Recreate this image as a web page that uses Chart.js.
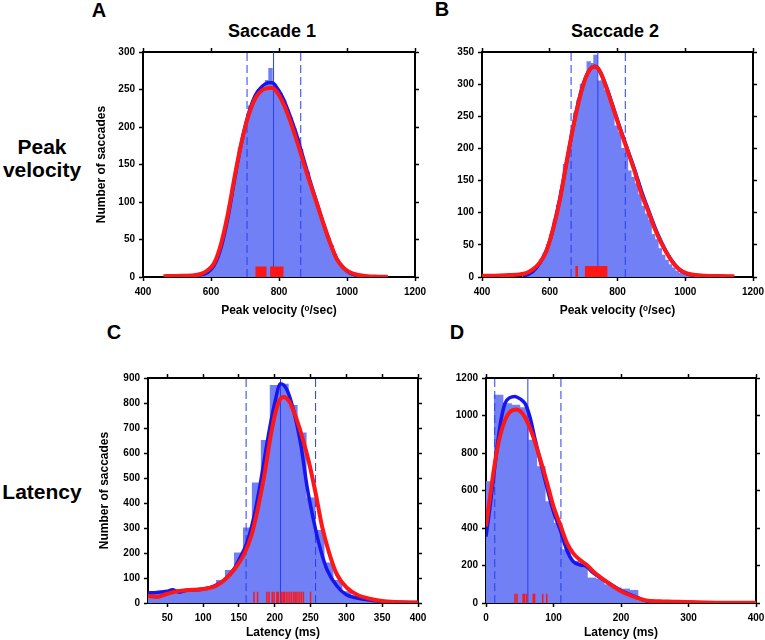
<!DOCTYPE html>
<html>
<head>
<meta charset="utf-8">
<script src="https://cdn.jsdelivr.net/npm/chart.js@4/dist/chart.umd.min.js"></script>
<style>
  body { margin: 0; width: 765px; height: 640px; overflow: hidden; position: relative; background: #fff;
         font-family: "Liberation Sans", Arial, sans-serif; font-weight: bold; color: #000; }
  canvas { position: absolute; }
  .t { position: absolute; white-space: nowrap; transform: translate(-50%, -50%); text-align: center; }
</style>
</head>
<body>
<div class="t" style="left:99px;top:10px;font-size:20px">A</div>
<div class="t" style="left:442px;top:9px;font-size:20px">B</div>
<div class="t" style="left:114px;top:332px;font-size:20px">C</div>
<div class="t" style="left:457px;top:332px;font-size:20px">D</div>
<div class="t" style="left:272px;top:31px;font-size:18px">Saccade 1</div>
<div class="t" style="left:615px;top:31px;font-size:18px">Saccade 2</div>
<div class="t" style="left:42px;top:158px;font-size:21px;line-height:23px">Peak<br>velocity</div>
<div class="t" style="left:42px;top:492px;font-size:21px">Latency</div>

<canvas id="chartA"></canvas>
<canvas id="chartB"></canvas>
<canvas id="chartC"></canvas>
<canvas id="chartD"></canvas>

<script>
/********************
DATA
********************/

// A: saccade 1 peak velocity
var aBinX = [565,575,585,595,605,615,625,635,645,655,665,675,685,695,705,715,725,735,745,755,765,775,785,795,805,815,825,835,845,855,865,875,885,895,905,915,925,935,945,955,965,975,985,995,1005,1015,1025,1035,1045];
var aBinY = [2,3,5,9,14,22,34,50,70,95,120,145,172,190,205,228,232,240,248,252,262,278,258,250,245,236,222,212,198,185,170,148,140,118,104,90,78,65,52,42,30,20,14,10,6,4,2,1,1];
var aBlueX = [530,560,590,610,630,650,670,690,710,730,750,770,780,790,810,830,850,870,890,910,930,950,970,990,1010,1030,1060];
var aBlueY = [0.5,2,6,16,40,80,132,180,217,242,254,259,259,255,240,218,192,161,130,101,72,46,24,12,5,2,0.5];
var aRedX = [460,500,540,570,590,610,630,650,670,690,710,730,750,770,780,790,810,830,850,870,890,910,930,950,970,990,1010,1030,1060,1090,1120];
var aRedY = [1,1.5,2,4,9,19,45,85,135,180,215,238,249,252,252,249,234,212,185,156,127,100,72,46,24,12,6,3,1,0.5,0.3];
var aMarks = [706, 784, 864];   // dashed, median, dashed
var aRug = [733,736,739,742,745,748,751,754,757,761,776,779,783,786,790,793,797,800,804,808,811];

// B: saccade 2 peak velocity
var bBinX = [525,535,545,555,565,575,585,595,605,615,625,635,645,655,665,675,685,695,705,715,725,735,745,755,765,775,785,795,805,815,825,835,845,855,865,875,885,895,905,915,925,935,945,955,965,975,985,995,1005,1015,1025];
var bBinY = [2,4,7,12,18,26,36,50,66,88,112,135,175,190,222,255,275,300,305,335,332,345,305,305,290,280,262,235,225,200,192,165,155,145,128,110,98,88,66,58,44,34,26,19,14,9,6,4,3,2,1];
var bBlueX = [520,540,560,580,600,620,640,660,680,700,720,735,750,770,790,810,830,850,870,890,910,930,950,970,990,1010,1030,1060];
var bBlueY = [1,5,14,30,56,98,150,208,262,302,324,328,318,292,260,228,198,168,135,106,78,54,34,19,9,4,2,1];
var bRedX = [400,440,480,510,530,550,570,590,610,630,650,670,690,710,730,740,750,770,790,810,830,850,870,890,910,930,950,970,990,1010,1030,1060,1100,1145];
var bRedY = [2,2,3,4,6,12,22,40,75,120,180,235,282,315,327,326,318,290,258,226,196,165,130,103,75,52,33,18,9,5,3,2,1.5,1];
var bMarks = [663, 742, 823];
var bRug = [678,681,706,710,714,717,721,725,729,732,736,740,744,748,752,756,760,764,768];

// C: saccade 1 latency
var cBinX = [25,37.5,50,62.5,75,87.5,100,112.5,125,137.5,150,162.5,175,187.5,200,212.5,225,237.5,250,262.5,275,287.5,300,312.5,325,337.5,350,362.5,375,387.5];
var cBinY = [38,40,45,42,48,50,55,65,90,130,200,300,480,650,870,875,790,680,420,290,160,90,45,25,15,10,6,4,3,2];
var cBlueX = [23,35,50,57,67,77,90,100,116,130,144,150,161,170,180,190,200,208,217,226,236,245,255,264,273,287,300,315,334,353,376,400];
var cBlueY = [40,42,47,53,43,51,53,56,69,93,140,173,240,333,480,653,800,877,853,773,640,467,320,213,133,67,33,20,11,5,3,2];
var cRedX = [23,35,50,63,77,101,117,130,144,158,167,176,186,195,204,212,220,229,238,248,257,266,276,287,301,315,334,353,376,400];
var cRedY = [29,24,37,47,51,56,67,93,136,200,267,373,520,680,793,824,807,747,667,560,440,307,200,113,60,33,16,7,3,2];
var cMarks = [160, 208, 257];
var cRug = [171,176,189,192,196.5,199,203,205,209.5,212,214,217,220,223,226,228.5,231,234,237,240,250];

// D: saccade 2 latency
var dBinX = [6.25,18.75,31.25,43.75,56.25,68.75,81.25,93.75,106.25,118.75,131.25,143.75,156.25,168.75,181.25,193.75,206.25,218.75,231.25,243.75,256.25,268.75,281.25,293.75,306.25,318.75,331.25];
var dBinY = [647,1108,1063,1055,1042,868,727,540,425,284,222,198,133,128,97,80,74,67,9,8,6,5,4,6,5,2,1];
var dBlueX = [0,6,13,20.5,28,35.5,43,50,58,65,73,80,90,100,110,119.5,129,139,149,159,178,198,217.5,237,257,291,316,366,400];
var dBlueY = [354,514,727,939,1063,1095,1102,1090,1063,993,868,762,620,487,390,284,222,204,195,160,115,71,39,12,4,4,2,1,0];
var dRedX = [0,6,13,20.5,28,35.5,45,52,60,70,80,90,100,110,119.5,129,139,149,159,178,198,217.5,237,257,277,296,341,400];
var dRedY = [408,567,744,886,975,1019,1032,1019,975,886,771,647,514,417,323,266,230,204,168,115,67,35,14,9,7,5,2,1];
var dMarks = [13, 62, 111];
var dRug = [43,46,55,57,60,70,72,84,90];

/********************
STYLE
********************/

var HIST = 'rgb(114,128,246)';
var BLUE = 'rgb(22,22,236)';
var RED = 'rgb(255,22,22)';
var MARK = 'rgb(40,60,240)';
var FAM = "'Liberation Sans', Arial, sans-serif";

function pts(xs, ys) {
  return xs.map(function (x, i) { return {x: x, y: ys[i]}; });
}

function vline(x, top) {
  return [{x: x, y: 0}, {x: x, y: top}];
}

function rugPts(xs, h) {
  var out = [];
  xs.forEach(function (x) {
    out.push({x: x, y: 0}, {x: x, y: h}, {x: x, y: null});
  });
  return out;
}

function axis(pos, min, max, step, size, opts) {
  var horiz = pos === 'bottom' || pos === 'top';
  var showLabels = pos === 'bottom' || pos === 'left';
  var s = {
    type: 'linear',
    position: pos,
    min: min,
    max: max,
    offset: false,
    ticks: {
      display: showLabels,
      stepSize: step,
      includeBounds: false,
      maxRotation: 0,
      autoSkip: false,
      padding: horiz ? 5 : 4,
      color: '#000',
      font: {family: FAM, size: 10, weight: 'bold'},
      callback: function (v) { return String(v); }   // no thousands separator
    },
    grid: {offset: false, drawOnChartArea: false, drawTicks: true, tickLength: 4, tickColor: '#000', tickWidth: 1.5},
    border: {display: true, color: '#000', width: 2},
    afterFit: function (scale) {
      if (horiz) scale.height = size; else scale.width = size;
    }
  };
  if (opts && opts.title) {
    s.title = {display: true, text: opts.title, color: '#000',
               font: {family: FAM, size: 12, weight: 'bold'},
               padding: opts.titlePad || {top: 0, bottom: 4}};
  }
  return s;
}

/********************
PANEL
********************/

function panel(id, box, area, p) {
  var cv = document.getElementById(id);
  cv.width = box.r - box.l;
  cv.height = box.b - box.t;
  cv.style.left = box.l + 'px';
  cv.style.top = box.t + 'px';

  var yMax = p.yMax;
  var scales = {
    x: axis('bottom', p.xMin, p.xMax, p.xStep, box.b - area.b, {title: p.xTitle, titlePad: p.xTitlePad}),
    x2: axis('top', p.xMin, p.xMax, p.xStep, area.t - box.t),
    y: axis('left', 0, yMax, p.yStep, area.l - box.l, p.yTitle ? {title: p.yTitle} : null),
    y2: axis('right', 0, yMax, p.yStep, box.r - area.r)
  };

  new Chart(cv, {
    type: 'bar',
    data: {
      datasets: [
        {type: 'line', data: rugPts(p.rug, p.rugH), borderColor: RED, borderWidth: 1.5,
         pointRadius: 0, tension: 0, spanGaps: false, order: 1},
        {type: 'line', data: pts(p.redX, p.redY), borderColor: RED, borderWidth: 4,
         pointRadius: 0, cubicInterpolationMode: 'monotone', order: 2},
        {type: 'line', data: pts(p.blueX, p.blueY), borderColor: BLUE, borderWidth: 3.5,
         pointRadius: 0, cubicInterpolationMode: 'monotone', order: 3},
        {type: 'line', data: vline(p.marks[1], yMax), borderColor: MARK, borderWidth: 1,
         pointRadius: 0, tension: 0, order: 4},
        {type: 'line', data: vline(p.marks[0], yMax), borderColor: MARK, borderWidth: 1,
         borderDash: [8, 4], pointRadius: 0, tension: 0, order: 4},
        {type: 'line', data: vline(p.marks[2], yMax), borderColor: MARK, borderWidth: 1,
         borderDash: [8, 4], pointRadius: 0, tension: 0, order: 4},
        {type: 'bar', data: pts(p.binX, p.binY), backgroundColor: HIST, borderWidth: 0,
         inflateAmount: 0.5, barPercentage: 1, categoryPercentage: 1, order: 6}
      ]
    },
    options: {
      responsive: false,
      animation: false,
      layout: {padding: 0},
      plugins: {legend: {display: false}, tooltip: {enabled: false}},
      scales: scales
    }
  });
}

var VEL = 'Peak velocity (\u1D52/sec)';
var LAT = 'Latency (ms)';
var NUM = 'Number of saccades';

panel('chartA', {l: 94, t: 36, r: 433, b: 322}, {l: 143, t: 52, r: 415, b: 277}, {
  xMin: 400, xMax: 1200, xStep: 200, yMax: 300, yStep: 50, xTitle: VEL, yTitle: NUM,
  binX: aBinX, binY: aBinY, blueX: aBlueX, blueY: aBlueY, redX: aRedX, redY: aRedY,
  marks: aMarks, rug: aRug, rugH: 14
});

panel('chartB', {l: 440, t: 36, r: 775, b: 322}, {l: 482, t: 52, r: 753, b: 277}, {
  xMin: 400, xMax: 1200, xStep: 200, yMax: 350, yStep: 50, xTitle: VEL,
  binX: bBinX, binY: bBinY, blueX: bBlueX, blueY: bBlueY, redX: bRedX, redY: bRedY,
  marks: bMarks, rug: bRug, rugH: 17
});

panel('chartC', {l: 97, t: 362, r: 436, b: 640}, {l: 148, t: 378, r: 418, b: 603}, {
  xMin: 23, xMax: 400, xStep: 50, yMax: 900, yStep: 100, xTitle: LAT, yTitle: NUM,
  xTitlePad: {top: 0, bottom: 0},
  binX: cBinX, binY: cBinY, blueX: cBlueX, blueY: cBlueY, redX: cRedX, redY: cRedY,
  marks: cMarks, rug: cRug, rugH: 45
});

panel('chartD', {l: 440, t: 362, r: 775, b: 640}, {l: 486, t: 378, r: 756, b: 603}, {
  xMin: 0, xMax: 400, xStep: 100, yMax: 1200, yStep: 200, xTitle: LAT,
  xTitlePad: {top: 0, bottom: 0},
  binX: dBinX, binY: dBinY, blueX: dBlueX, blueY: dBlueY, redX: dRedX, redY: dRedY,
  marks: dMarks, rug: dRug, rugH: 50
});
</script>
</body>
</html>
